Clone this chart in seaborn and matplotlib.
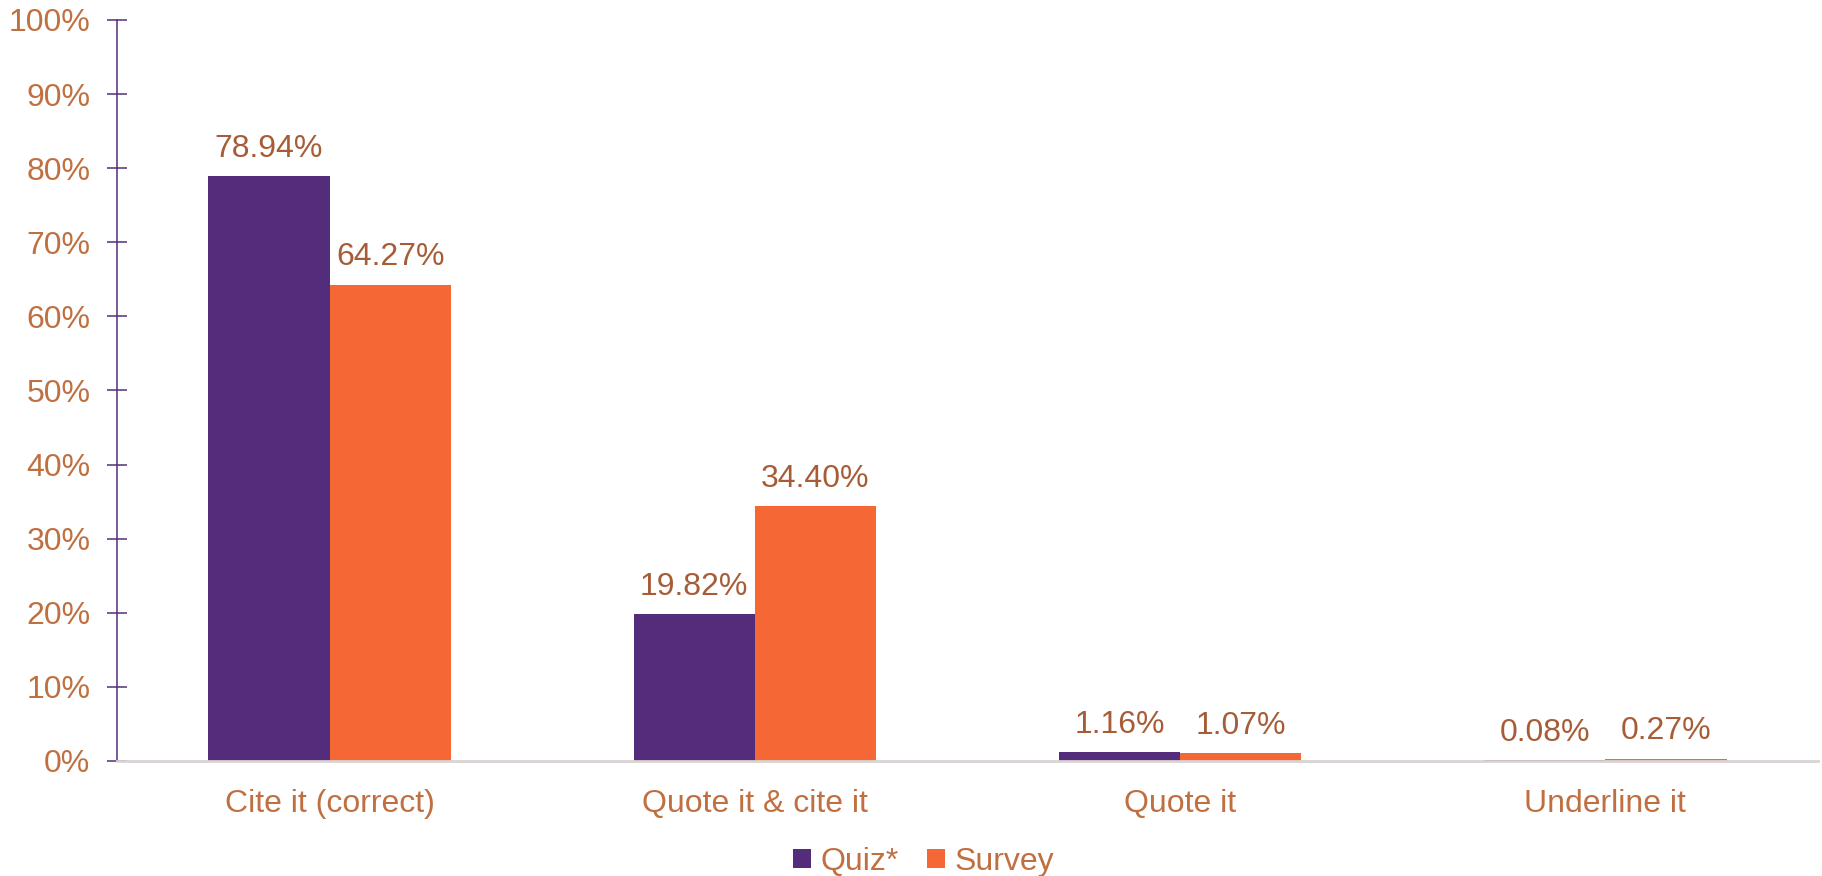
import matplotlib
matplotlib.use("Agg")
import matplotlib.pyplot as plt
from matplotlib.patches import Patch
from matplotlib.ticker import FuncFormatter, MultipleLocator
import pandas as pd
import seaborn as sns

# Responses to "How should you handle a source you use?"
categories = ["Cite it (correct)", "Quote it & cite it", "Quote it", "Underline it"]
series_names = ["Quiz*", "Survey"]
quiz_values = [78.94, 19.82, 1.16, 0.08]
survey_values = [64.27, 34.40, 1.07, 0.27]

PURPLE = "#532D7C"
ORANGE = "#F66736"
TICK_TEXT = "#C07040"
VALUE_TEXT = "#A65D37"
BASELINE = "#D9D4D0"
FS = 23

df = pd.DataFrame({
    "category": categories * 2,
    "source": [series_names[0]] * len(categories) + [series_names[1]] * len(categories),
    "value": quiz_values + survey_values,
})

sns.set_theme(style="white")
plt.rcParams["font.family"] = ["Liberation Sans", "DejaVu Sans"]

fig = plt.figure(figsize=(18.22, 8.76), dpi=100)
ax = fig.add_axes([0.0642, 0.1313, 0.9336, 0.8459])

sns.barplot(
    data=df, x="category", y="value", hue="source",
    order=categories, hue_order=series_names,
    palette=[PURPLE, ORANGE], width=0.57, gap=0,
    errorbar=None, legend=False, ax=ax,
    linewidth=0, saturation=1,
)

for cont in ax.containers:
    ax.bar_label(cont, fmt="%.2f%%", padding=9, fontsize=FS, color=VALUE_TEXT)

ax.set_xlim(-0.5, len(categories) - 0.5)
ax.set_ylim(0, 100)
ax.yaxis.set_major_locator(MultipleLocator(10))
ax.yaxis.set_major_formatter(FuncFormatter(lambda v, _: f"{v:.0f}%"))
ax.set_xlabel("")
ax.set_ylabel("")

for side in ("top", "right"):
    ax.spines[side].set_visible(False)
ax.spines["left"].set_color(PURPLE)
ax.spines["left"].set_linewidth(1.1)
ax.spines["bottom"].set_color(BASELINE)
ax.spines["bottom"].set_linewidth(2)

ax.tick_params(axis="y", direction="inout", length=14.4, width=1.1, color=PURPLE,
               labelsize=FS, labelcolor=TICK_TEXT, pad=12, left=True)
ax.tick_params(axis="x", length=0, labelsize=FS, labelcolor=TICK_TEXT, pad=20)

handles = [Patch(facecolor=PURPLE, edgecolor="none"), Patch(facecolor=ORANGE, edgecolor="none")]
fig.legend(handles, series_names, loc="center", bbox_to_anchor=(0.507, 0.016), ncol=2,
           frameon=False, fontsize=FS, labelcolor=TICK_TEXT, handlelength=0.55,
           handleheight=0.55, handletextpad=0.3, columnspacing=0.9, borderpad=0)

fig.savefig("out.png", dpi=100, facecolor="white")
